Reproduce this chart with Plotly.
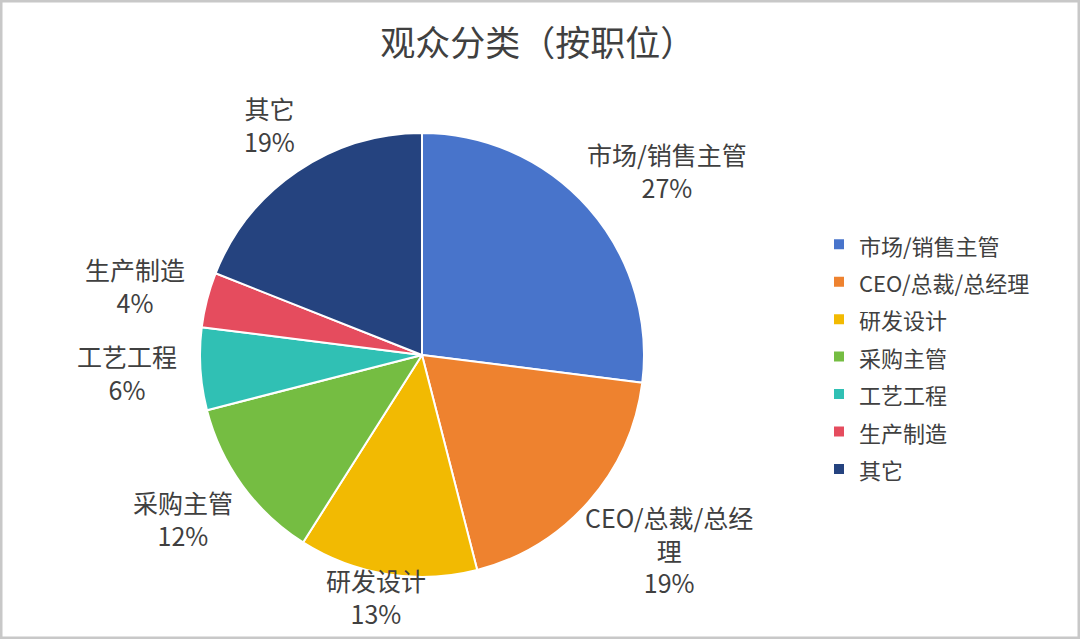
import math
import plotly.graph_objects as go

categories = ["市场/销售主管", "CEO/总裁/总经理", "研发设计", "采购主管", "工艺工程", "生产制造", "其它"]
label_text = ["市场/销售主管", "CEO/总裁/总经<br>理", "研发设计", "采购主管", "工艺工程", "生产制造", "其它"]
values = [27, 19, 13, 12, 6, 4, 19]
colors = ["#4874CB", "#EE822F", "#F2BA02", "#75BD42", "#30C0B4", "#E54C5E", "#25437F"]

W, H = 1080, 639
cx, cy, r = 422, 355, 222
FS = 25          # data label font size
TXT = "#404040"
FONT = "Noto Sans CJK SC"

legend_labels = [f"<span style='font-size:22px'>{c}</span>" for c in categories]

fig = go.Figure(go.Pie(
    labels=legend_labels,
    values=values,
    textposition="none",
    marker=dict(colors=colors, line=dict(color="white", width=2)),
    sort=False,
    direction="clockwise",
    rotation=0,
    domain=dict(x=[(cx - r) / W, (cx + r) / W], y=[(H - cy - r) / H, (H - cy + r) / H]),
    showlegend=True,
))


# ---- outside data labels, placed from the slice mid-angles ----
def text_w(s):
    w = 0.0
    for ch in s:
        if ord(ch) > 0x2E80:
            w += 1.0
        elif ch.isupper():
            w += 0.62
        elif ch == "/":
            w += 0.4
        elif ch == "%":
            w += 0.85
        else:
            w += 0.56
    return w * FS


total = sum(values)
boxes = []
cum = 0
for lab, v in zip(label_text, values):
    mid = (cum + v / 2) / total * 2 * math.pi
    cum += v
    s, c = math.sin(mid), math.cos(mid)
    txt = f"{lab}<br>{v / total:.0%}"
    lines = txt.split("<br>")
    w = max(text_w(l) for l in lines)
    h = len(lines) * FS * 1.3
    R = r + 24
    x = cx + R * s + w / 2 * s
    y = cy - R * c - h / 2 * c
    boxes.append(dict(txt=txt, x=x, y=y, w=w, h=h, side=1 if s >= 0 else -1))

# resolve overlaps on each side (push lower label down)
for side in (1, -1):
    grp = sorted([b for b in boxes if b["side"] == side], key=lambda b: b["y"])
    for a, b in zip(grp, grp[1:]):
        need = (a["h"] + b["h"]) / 2 + 6
        if b["y"] - a["y"] < need and abs(a["x"] - b["x"]) < (a["w"] + b["w"]) / 2:
            b["y"] = a["y"] + need

# keep labels inside the chart area
for b in boxes:
    b["y"] = min(max(b["y"], b["h"] / 2 + 10), H - 10 - b["h"] / 2)

annotations = [
    dict(text=b["txt"], x=b["x"] / W, y=1 - b["y"] / H, xref="paper", yref="paper",
         xanchor="center", yanchor="middle", showarrow=False, align="center",
         font=dict(size=FS, color=TXT, family=FONT))
    for b in boxes
]

fig.update_layout(
    width=W, height=H,
    margin=dict(l=0, r=0, t=0, b=0, autoexpand=False),
    paper_bgcolor="white",
    plot_bgcolor="white",
    font=dict(family=FONT, color=TXT),
    title=dict(text="观众分类（按职位）", x=0.498, xanchor="center", y=1 - 44 / H, yanchor="middle",
               font=dict(size=35, color=TXT, family=FONT)),
    legend=dict(x=819 / W, y=1 - 357 / H, xanchor="left", yanchor="middle",
                font=dict(size=26.5, color=TXT, family=FONT),
                bgcolor="rgba(0,0,0,0)"),
    annotations=annotations,
    shapes=[dict(type="rect", xref="paper", yref="paper", x0=0, x1=1, y0=0, y1=1,
                 line=dict(color="#C8C8C8", width=5), fillcolor="rgba(0,0,0,0)")],
)

fig.write_html("out.html", config={"displayModeBar": False},
               post_script="document.body.style.margin='0';document.body.style.overflow='hidden';")
